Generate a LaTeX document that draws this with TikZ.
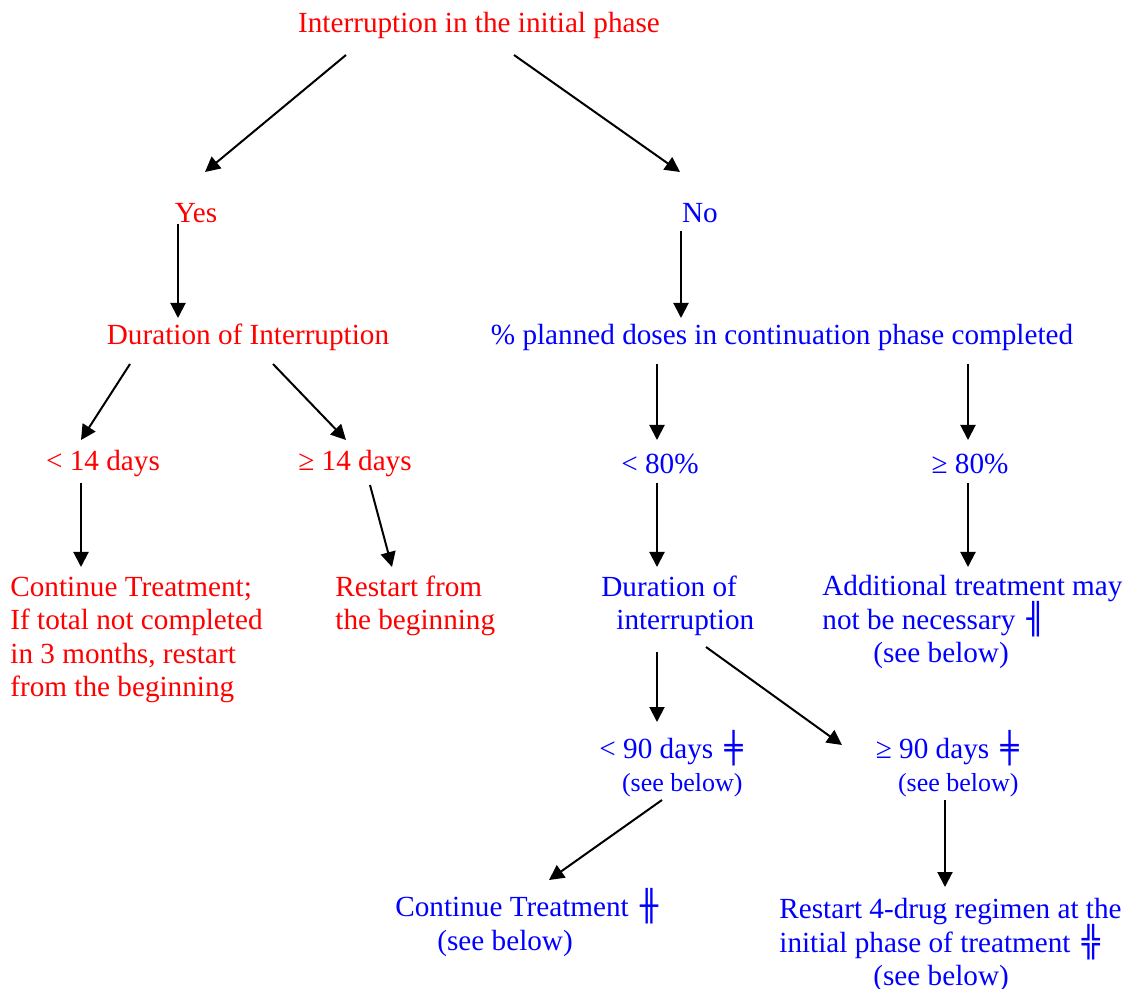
\documentclass[tikz,border=0pt]{standalone}
\usepackage{fontspec}
\setmainfont{Liberation Serif}
\newfontfamily\boxfont{DejaVu Sans}
\usetikzlibrary{arrows.meta,calc}
\newcommand{\bx}[1]{\hspace{2pt}\smash{\boxfont\bfseries\fontsize{15}{15}\selectfont #1}}
\newcommand{\smalltxt}{\fontsize{13}{15}\selectfont}

\begin{document}
\begin{tikzpicture}[x=0.5pt,y=-0.5pt,
	every node/.style={font=\fontsize{14.6}{16.6}\selectfont, inner sep=0pt},
	redtxt/.style={text=red},
	bluetxt/.style={text=blue},
	arr/.style={-{Triangle[length=7.5pt,width=7.5pt]}, line width=1pt}]
	\useasboundingbox (0,0) rectangle (1125,989);

	\node[redtxt] (root) at (479,25) {Interruption in the initial phase};
	\node[redtxt] (yes) at (196,213) {Yes};
	\node[bluetxt] (no) at (700,213) {No};
	\node[redtxt] (durA) at (248,337) {Duration of Interruption};
	\node[bluetxt] (doses) at (782,337) {\% planned doses in continuation phase completed};
	\node[redtxt] (lt14) at (103,464) {< 14 days};
	\node[redtxt] (ge14) at (355,464) {≥ 14 days};
	\node[bluetxt] (lt80) at (660,464) {< 80\%};
	\node[bluetxt] (ge80) at (970,464) {≥ 80\%};
	\node[redtxt, align=left, anchor=west] (contA) at (10,640) {Continue Treatment;\\If total not completed\\in 3 months, restart\\from the beginning};
	\node[redtxt, align=left, anchor=west] (restartA) at (335,606) {Restart from\\the beginning};
	\node[bluetxt, align=left, anchor=west] (durB) at (601,606) {Duration of\\\hspace*{7.5pt}interruption};
	\node[bluetxt, align=left, anchor=west] (notnec) at (822,622) {Additional treatment may\\not be necessary \bx{╢}\\\hspace*{25.5pt}(see below)};
	\node[bluetxt, align=right, anchor=east] (lt90) at (743,768) {< 90 days \bx{╪}\\{\smalltxt (see below)}};
	\node[bluetxt, align=right, anchor=east] (ge90) at (1019,768) {≥ 90 days \bx{╪}\\{\smalltxt (see below)}};
	\node[bluetxt, align=left, anchor=west] (contB) at (395,927) {Continue Treatment \bx{╫}\\\hspace*{21pt}(see below)};
	\node[bluetxt, align=left, anchor=west] (restartB) at (779,945) {Restart 4-drug regimen at the\\initial phase of treatment \bx{╬}\\\hspace*{47pt}(see below)};

	\draw[arr] ($(root)+(-133,30)$) -- ($(yes)+(9,-41)$);
	\draw[arr] ($(root)+(35,30)$) -- ($(no)+(-20,-41)$);
	\draw[arr] ($(yes)+(-18,11)$) -- ($(durA)+(-70,-19)$);
	\draw[arr] ($(no)+(-19,18)$) -- ($(doses)+(-101,-19)$);
	\draw[arr] ($(durA)+(-118,27)$) -- ($(lt14)+(-22,-24)$);
	\draw[arr] ($(durA)+(25,27)$) -- ($(ge14)+(-9,-24)$);
	\draw[arr] ($(doses)+(-125,27)$) -- ($(lt80)+(-3,-24)$);
	\draw[arr] ($(doses)+(186,27)$) -- ($(ge80)+(-2,-24)$);
	\draw[arr] ($(lt14)+(-22,19)$) -- ($(contA.west)+(71,-73)$);
	\draw[arr] ($(ge14)+(15,21)$) -- ($(restartA.west)+(57,-39)$);
	\draw[arr] ($(lt80)+(-3,19)$) -- ($(durB.west)+(56,-39)$);
	\draw[arr] ($(ge80)+(-2,19)$) -- ($(notnec.west)+(146,-55)$);
	\draw[arr] ($(durB.west)+(56,46)$) -- ($(lt90.east)+(-86,-46)$);
	\draw[arr] ($(durB.west)+(105,41)$) -- ($(ge90.east)+(-177,-23)$);
	\draw[arr] ($(lt90.east)+(-81,32)$) -- ($(contB.west)+(154,-47)$);
	\draw[arr] ($(ge90.east)+(-74,32)$) -- ($(restartB.west)+(166,-58)$);
\end{tikzpicture}
\end{document}
